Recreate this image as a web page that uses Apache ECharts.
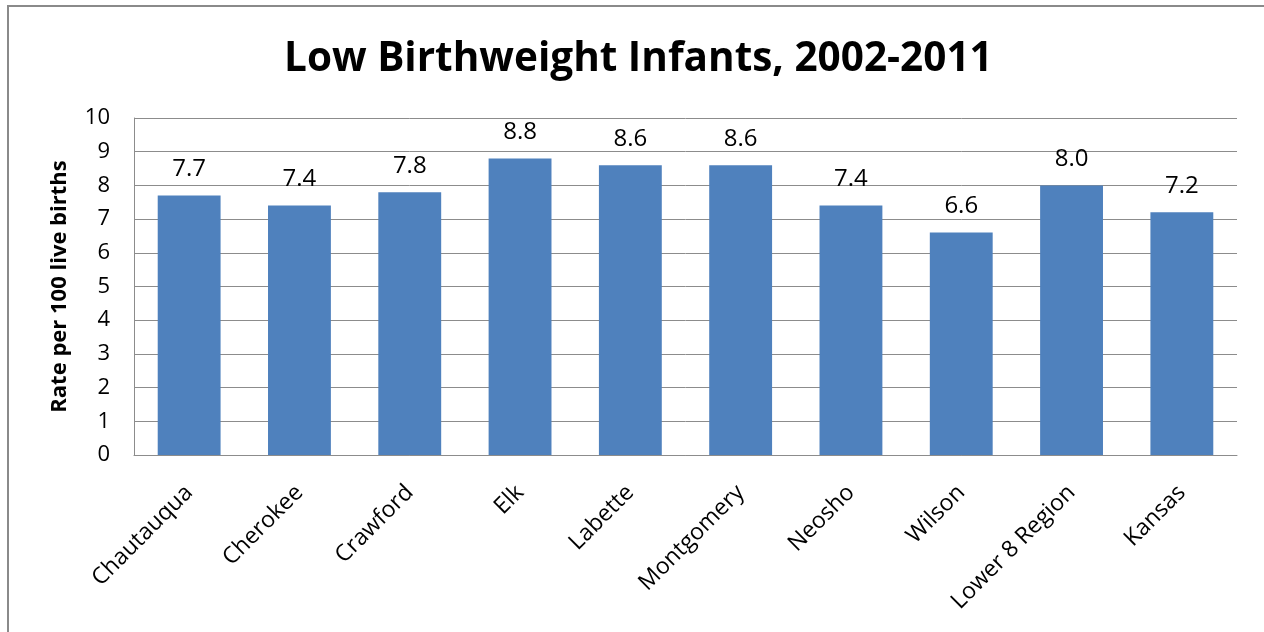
<!DOCTYPE html>
<html>
<head>
<meta charset="utf-8">
<script src="https://cdn.jsdelivr.net/npm/echarts@6/dist/echarts.min.js"></script>
<style>
  html, body { margin: 0; padding: 0; background: #ffffff; }
  #chart { width: 1264px; height: 632px; }
</style>
</head>
<body>
<div id="chart"></div>
<script>
// Low birthweight rates by county, 2002-2011
const counties = ['Chautauqua', 'Cherokee', 'Crawford', 'Elk', 'Labette', 'Montgomery', 'Neosho', 'Wilson', 'Lower 8 Region', 'Kansas'];
const rates = [7.7, 7.4, 7.8, 8.8, 8.6, 8.6, 7.4, 6.6, 8.0, 7.2];
const yTicks = [0, 10, 1]; // min, max, step

const chart = echarts.init(document.getElementById('chart'), null, { renderer: 'canvas' });
const font = '"Open Sans", Lato, sans-serif';

chart.setOption({
  animation: false,
  backgroundColor: '#ffffff',
  title: {
    text: 'Low Birthweight Infants, 2002-2011',
    left: 279,
    top: 34,
    textStyle: { fontFamily: font, fontWeight: 'bold', fontSize: 40.5, color: '#000000' }
  },
  graphic: [{
    type: 'rect',
    shape: { x: 8, y: 6, width: 1400, height: 800 },
    style: { fill: 'none', stroke: '#8a8a8a', lineWidth: 2 },
    silent: true
  }],
  grid: { left: 134, right: 27, top: 118, bottom: 177 },
  xAxis: {
    type: 'category',
    data: counties,
    axisLine: { lineStyle: { color: '#8c8c8c', width: 1 } },
    axisTick: { show: false },
    axisLabel: {
      rotate: 45,
      interval: 0,
      margin: 34,
      fontFamily: font,
      fontSize: 23,
      color: '#000000'
    }
  },
  yAxis: {
    type: 'value',
    min: yTicks[0],
    max: yTicks[1],
    interval: yTicks[2],
    name: 'Rate per 100 live births',
    nameLocation: 'middle',
    nameGap: 63,
    nameRotate: 90,
    nameTextStyle: { fontFamily: font, fontWeight: 'bold', fontSize: 22, color: '#000000' },
    axisLine: { show: true, lineStyle: { color: '#8c8c8c', width: 1 } },
    axisTick: { show: false },
    splitLine: { lineStyle: { color: '#8c8c8c', width: 1 } },
    axisLabel: { margin: 24, fontFamily: font, fontSize: 22, color: '#000000' }
  },
  series: [{
    type: 'bar',
    data: rates,
    barWidth: '57%',
    itemStyle: { color: '#4f81bd' },
    label: {
      show: true,
      position: 'top',
      distance: 14,
      fontFamily: font,
      fontSize: 24,
      color: '#000000',
      formatter: p => p.value.toFixed(1)
    }
  }]
});
</script>
</body>
</html>
